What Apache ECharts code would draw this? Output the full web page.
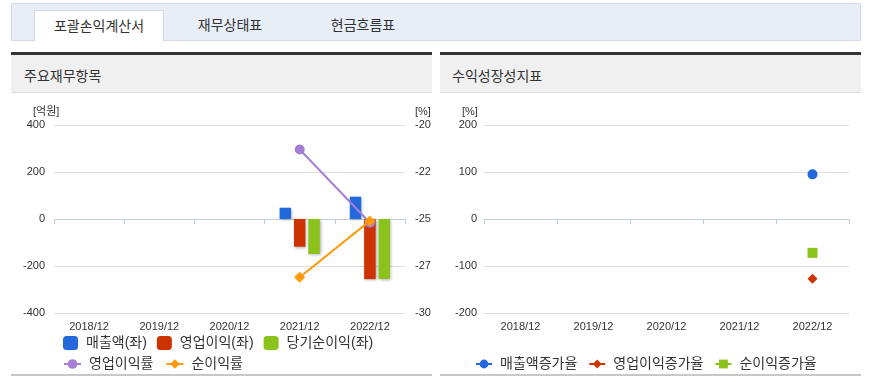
<!DOCTYPE html>
<html><head><meta charset="utf-8">
<script src="https://cdn.jsdelivr.net/npm/echarts@6/dist/echarts.min.js"></script>
<style>
body{margin:0;background:#fff;width:875px;height:389px;position:relative;overflow:hidden;font-family:'Noto Sans CJK KR',sans-serif;color:#333}
.abs{position:absolute;box-sizing:border-box}
#tabbar{left:11px;top:3px;width:850px;height:38px;background:#e8eef8;border:1px solid #d3dbe6}
.tab{position:absolute;top:10px;height:31px;font-size:14px;line-height:28px;text-align:center;color:#333}
#tab1{left:34px;width:128px;background:#fff;border:1px solid #d3dbe6;border-bottom:none}
.panel{top:52px;height:41px;background:#f0f0f0;border-top:3px solid #333;border-bottom:1px solid #dedede}
.ptitle{position:absolute;left:13px;top:10px;font-size:14px;color:#333}
.bline{top:374px;height:2px;background:#c8c8c8}
</style></head><body>
<div id="tabbar" class="abs"></div>
<div id="tab1" class="tab">포괄손익계산서</div>
<div class="tab" style="left:193px;width:74px">재무상태표</div>
<div class="tab" style="left:326px;width:74px">현금흐름표</div>
<div class="abs panel" style="left:11px;width:421px"><div class="ptitle">주요재무항목</div></div>
<div class="abs panel" style="left:440px;width:421px"><div class="ptitle" style="left:12px">수익성장성지표</div></div>
<div id="c1" class="abs" style="left:11px;top:94px;width:420px;height:280px;overflow:hidden"></div>
<div id="c2" class="abs" style="left:440px;top:94px;width:421px;height:280px;overflow:hidden"></div>
<div class="abs bline" style="left:11px;width:421px"></div>
<div class="abs bline" style="left:440px;width:421px"></div>
<script>
const categories = ['2018/12','2019/12','2020/12','2021/12','2022/12'];
const leftTicks = [-400,-200,0,200,400];
const rightTicks = [-300,-275,-250,-225,-200];
const revenue = [null,null,null,48,95];
const opProfit = [null,null,null,-118,-256];
const netProfit = [null,null,null,-149,-255];
const opMargin = [null,null,null,-213,-252];
const netMargin = [null,null,null,-281,-251];
const growthTicks = [-200,-100,0,100,200];
const revGrowth = [null,null,null,null,95];
const opGrowth = [null,null,null,null,-127];
const netGrowth = [null,null,null,null,-72];

const FONT = "'Liberation Sans','Noto Sans CJK KR',sans-serif";
const C = {blue:'#2369db',red:'#cc3300',green:'#8bc21b',purple:'#a57ed8',orange:'#ff9a0a'};
const axisLabel = {fontSize:11,color:'#333',fontFamily:FONT};
const xAxisCommon = {
  type:'category',data:categories,
  axisLine:{lineStyle:{color:'#c0cfe0',width:1}},
  axisTick:{show:true,length:5,lineStyle:{color:'#c0cfe0'}},
  axisLabel:Object.assign({margin:8},axisLabel)
};
const split = {show:true,lineStyle:{color:'#dedede',width:1}};
const shadow = {shadowColor:'rgba(0,0,0,0.35)',shadowBlur:3,shadowOffsetX:1,shadowOffsetY:1};
const legendText = {fontSize:14,color:'#333',fontFamily:FONT,padding:[0,0,0,3]};

const c1 = echarts.init(document.getElementById('c1'),null,{renderer:'canvas'});
c1.setOption({
  animation:false,
  grid:{left:43,right:26,top:31,height:188,outerBoundsMode:'none',containLabel:false},
  xAxis:xAxisCommon,
  yAxis:[
    {type:'value',min:leftTicks[0],max:leftTicks[leftTicks.length-1],interval:200,
     axisLine:{show:false},axisTick:{show:false},splitLine:split,
     axisLabel:Object.assign({margin:9},axisLabel)},
    {type:'value',min:rightTicks[0],max:rightTicks[rightTicks.length-1],interval:25,position:'right',
     axisLine:{show:false},axisTick:{show:false},splitLine:{show:false},
     axisLabel:Object.assign({margin:10},axisLabel)}
  ],
  graphic:[
    {type:'text',left:22,top:12,style:{text:'[억원]',fontSize:11,fill:'#333',fontFamily:FONT}},
    {type:'text',left:404,top:12,style:{text:'[%]',fontSize:11,fill:'#333',fontFamily:FONT}}
  ],
  legend:[
    {data:['매출액(좌)','영업이익(좌)','당기순이익(좌)'],left:47,top:237,itemWidth:15,itemHeight:14,itemGap:10,
     icon:'roundRect',textStyle:legendText},
    {data:['영업이익률','순이익률'],left:47,top:258,itemWidth:17,itemHeight:12,itemGap:12,textStyle:legendText}
  ],
  series:[
    {name:'매출액(좌)',type:'bar',data:revenue,barWidth:11.5,barGap:'25%',itemStyle:Object.assign({color:C.blue},shadow)},
    {name:'영업이익(좌)',type:'bar',data:opProfit,barWidth:11.5,barGap:'25%',itemStyle:Object.assign({color:C.red},shadow)},
    {name:'당기순이익(좌)',type:'bar',data:netProfit,barWidth:11.5,barGap:'25%',itemStyle:Object.assign({color:C.green},shadow)},
    {name:'영업이익률',type:'line',yAxisIndex:1,data:opMargin,symbol:'circle',symbolSize:10,z:5,
     lineStyle:{color:C.purple,width:2},itemStyle:{color:C.purple}},
    {name:'순이익률',type:'line',yAxisIndex:1,data:netMargin,symbol:'diamond',symbolSize:11,z:6,
     lineStyle:{color:C.orange,width:2},itemStyle:{color:C.orange}}
  ]
});

const c2 = echarts.init(document.getElementById('c2'),null,{renderer:'canvas'});
c2.setOption({
  animation:false,
  grid:{left:44,right:12,top:31,height:188,outerBoundsMode:'none',containLabel:false},
  xAxis:xAxisCommon,
  yAxis:{type:'value',min:growthTicks[0],max:growthTicks[growthTicks.length-1],interval:100,
     axisLine:{show:false},axisTick:{show:false},splitLine:split,
     axisLabel:Object.assign({margin:7},axisLabel)},
  graphic:[
    {type:'text',left:22,top:12,style:{text:'[%]',fontSize:11,fill:'#333',fontFamily:FONT}}
  ],
  legend:{data:['매출액증가율','영업이익증가율','순이익증가율'],left:30,top:258,itemWidth:16,itemHeight:11,itemGap:11,
     textStyle:legendText},
  series:[
    {name:'매출액증가율',type:'line',data:revGrowth,symbol:'circle',symbolSize:10,
     lineStyle:{color:C.blue,width:2},itemStyle:{color:C.blue}},
    {name:'영업이익증가율',type:'line',data:opGrowth,symbol:'diamond',symbolSize:10,
     lineStyle:{color:C.red,width:2},itemStyle:{color:C.red}},
    {name:'순이익증가율',type:'line',data:netGrowth,symbol:'rect',symbolSize:10,
     lineStyle:{color:C.green,width:2},itemStyle:{color:C.green}}
  ]
});
</script>
</body></html>
